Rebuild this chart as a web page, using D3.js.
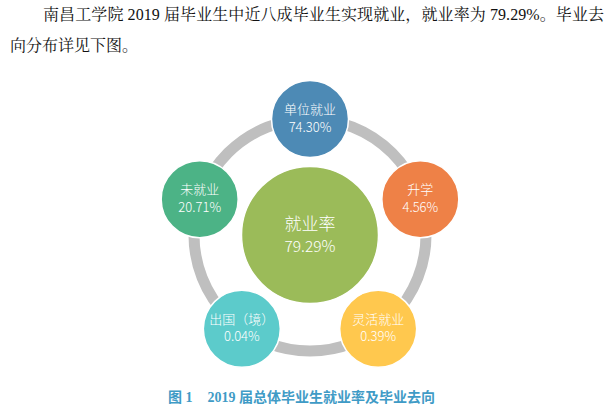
<!DOCTYPE html>
<html>
<head>
<meta charset="utf-8">
<script src="https://cdn.jsdelivr.net/npm/d3@7"></script>
<style>
  html, body { margin: 0; padding: 0; background: #fff; }
  svg { display: block; }
</style>
</head>
<body>
<svg id="chart" width="615" height="409"></svg>
<script>
// ---- data ----
const introLines = [
  "南昌工学院 2019 届毕业生中近八成毕业生实现就业，就业率为 79.29%。毕业去",
  "向分布详见下图。"
];
const categories = ["单位就业", "升学", "灵活就业", "出国（境）", "未就业"];
const values = [74.30, 4.56, 0.39, 0.04, 20.71];
const centerLabel = "就业率";
const centerValue = 79.29;
const caption = ["图 1", "2019 届总体毕业生就业率及毕业去向"];
const colors = ["#4d8ab5", "#ee8147", "#ffc84e", "#5ccbcb", "#4cb386"];

// ---- layout ----
const svg = d3.select("#chart");
const cx = 310, cy = 235;
const ringR = 116;
const satR = 38.5;
const bigR = 68.5;
const fmt = d => d3.format(".2f")(d) + "%";

// intro text
const serif = "'Liberation Serif', 'Noto Serif CJK SC', 'Noto Sans CJK SC', serif";
svg.append("text")
  .attr("x", 43).attr("y", 20)
  .attr("font-family", serif).attr("font-size", 16).attr("fill", "#111")
  .attr("textLength", 561).attr("lengthAdjust", "spacing")
  .text(introLines[0]);
svg.append("text")
  .attr("x", 10).attr("y", 51)
  .attr("font-family", serif).attr("font-size", 16).attr("fill", "#111")
  .text(introLines[1]);

// angle scale
const angle = d3.scaleLinear().domain([0, categories.length]).range([0, 2 * Math.PI]);
const px = i => cx + ringR * Math.sin(angle(i));
const py = i => cy - ringR * Math.cos(angle(i));

// ring
svg.append("circle")
  .attr("cx", cx).attr("cy", cy).attr("r", ringR)
  .attr("fill", "none").attr("stroke", "#bfbfbf").attr("stroke-width", 11);

// center circle
svg.append("circle")
  .attr("cx", cx).attr("cy", cy).attr("r", bigR)
  .attr("fill", "#9bbb59").attr("stroke", "#fff").attr("stroke-width", 1.5);

const sans = "'Noto Sans CJK SC', 'Noto Sans', sans-serif";
svg.append("text")
  .attr("x", cx).attr("y", cy - 10.5).attr("dy", "0.35em")
  .attr("text-anchor", "middle").attr("font-family", sans)
  .attr("font-size", 17).attr("font-weight", 300).attr("fill", "#fff")
  .text(centerLabel);
svg.append("text")
  .attr("x", cx).attr("y", cy + 12).attr("dy", "0.35em")
  .attr("text-anchor", "middle").attr("font-family", sans)
  .attr("font-size", 15.5).attr("font-weight", 300).attr("fill", "#fff")
  .text(fmt(centerValue));

// satellites
const g = svg.selectAll("g.sat").data(categories).join("g")
  .attr("class", "sat")
  .attr("transform", (d, i) => `translate(${px(i)},${py(i)})`);
g.append("circle")
  .attr("r", satR)
  .attr("fill", (d, i) => colors[i])
  .attr("stroke", "#fff").attr("stroke-width", 1.5);
g.append("text")
  .attr("y", -9.5).attr("dy", "0.35em")
  .attr("text-anchor", "middle").attr("font-family", sans)
  .attr("font-size", 13).attr("font-weight", 300).attr("fill", "#fff")
  .text(d => d);
g.append("text")
  .attr("y", 8).attr("dy", "0.35em")
  .attr("text-anchor", "middle").attr("font-family", sans)
  .attr("font-size", 13).attr("font-weight", 300).attr("fill", "#fff")
  .text((d, i) => fmt(values[i]));

// caption
const capFont = "'Liberation Serif', 'Noto Sans CJK SC', sans-serif";
const cap = svg.append("text")
  .attr("x", 168).attr("y", 402)
  .attr("font-family", capFont).attr("font-size", 14)
  .attr("font-weight", "bold").attr("fill", "#3f9bc6");
cap.append("tspan").text(caption[0]);
cap.append("tspan").attr("dx", 15).text(caption[1]);
</script>
</body>
</html>
